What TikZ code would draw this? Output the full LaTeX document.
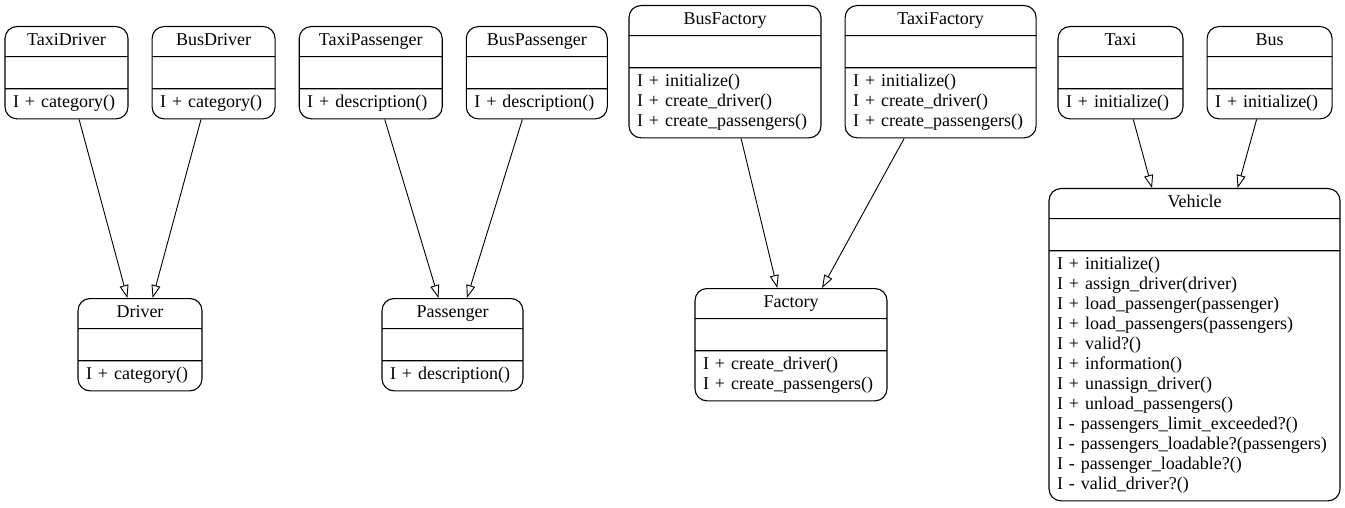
\documentclass[tikz,border=0pt]{standalone}
\usepackage{fontspec}
\setmainfont{Liberation Serif}
\usetikzlibrary{arrows.meta,positioning,shapes.multipart}

\newcommand{\clsname}[1]{\makebox[\hsize]{\strut #1}}
\newcommand{\clsgap}{\rule[-6pt]{0pt}{22pt}}

\begin{document}
\begin{tikzpicture}[
    x=1pt, y=-1pt,
    node distance=23pt and 23pt,
    cls/.style={draw, rounded corners=12pt, line width=1.1pt, rectangle split, rectangle split parts=3, align=left, inner xsep=8pt, inner ysep=4.5pt, font=\fontsize{18}{20}\selectfont},
    inherit/.style={-{Triangle[open, length=13pt, width=9pt]}, line width=0.9pt}
  ]
    \useasboundingbox (0,0) rectangle (1345,508);
    \node[cls, text width=107pt, anchor=north] (taxidriver) at (66.5,26) {\clsname{TaxiDriver} \nodepart{second} \clsgap \nodepart{third} \strut I + category()};
    \node[cls, text width=107pt, right=of taxidriver] (busdriver) {\clsname{BusDriver} \nodepart{second} \clsgap \nodepart{third} \strut I + category()};
    \node[cls, text width=127pt, right=of busdriver] (taxipassenger) {\clsname{TaxiPassenger} \nodepart{second} \clsgap \nodepart{third} \strut I + description()};
    \node[cls, text width=125pt, right=of taxipassenger] (buspassenger) {\clsname{BusPassenger} \nodepart{second} \clsgap \nodepart{third} \strut I + description()};
    \node[cls, text width=176pt, anchor=north] (busfactory) at (725,5) {\clsname{BusFactory} \nodepart{second} \clsgap \nodepart{third} \strut I + initialize()\\ I + create\_driver()\\ I + create\_passengers()\strut};
    \node[cls, text width=175pt, right=of busfactory] (taxifactory) {\clsname{TaxiFactory} \nodepart{second} \clsgap \nodepart{third} \strut I + initialize()\\ I + create\_driver()\\ I + create\_passengers()\strut};
    \node[cls, text width=109pt, anchor=north] (taxi) at (1120.5,26) {\clsname{Taxi} \nodepart{second} \clsgap \nodepart{third} \strut I + initialize()};
    \node[cls, text width=109pt, right=of taxi] (bus) {\clsname{Bus} \nodepart{second} \clsgap \nodepart{third} \strut I + initialize()};
    \node[cls, text width=108pt, anchor=north] (driver) at (140,298) {\clsname{Driver} \nodepart{second} \clsgap \nodepart{third} \strut I + category()};
    \node[cls, text width=125pt, anchor=north] (passenger) at (452.5,298) {\clsname{Passenger} \nodepart{second} \clsgap \nodepart{third} \strut I + description()};
    \node[cls, text width=176pt, anchor=north] (factory) at (791,288) {\clsname{Factory} \nodepart{second} \clsgap \nodepart{third} \strut I + create\_driver()\\ I + create\_passengers()\strut};
    \node[cls, text width=275pt, anchor=north] (vehicle) at (1194.5,188) {\clsname{Vehicle} \nodepart{second} \clsgap \nodepart{third} \strut I + initialize()\\
      I + assign\_driver(driver)\\
      I + load\_passenger(passenger)\\
      I + load\_passengers(passengers)\\
      I + valid?()\\
      I + information()\\
      I + unassign\_driver()\\
      I + unload\_passengers()\\
      I - passengers\_limit\_exceeded?()\\
      I - passengers\_loadable?(passengers)\\
      I - passenger\_loadable?()\\
      I - valid\_driver?()\strut};
    \draw[inherit] (taxidriver) -- (driver);
    \draw[inherit] (busdriver) -- (driver);
    \draw[inherit] (taxipassenger) -- (passenger);
    \draw[inherit] (buspassenger) -- (passenger);
    \draw[inherit] (busfactory) -- (factory);
    \draw[inherit] (taxifactory) -- (factory);
    \draw[inherit] (taxi) -- (vehicle);
    \draw[inherit] (bus) -- (vehicle);
  \end{tikzpicture}
\end{document}
